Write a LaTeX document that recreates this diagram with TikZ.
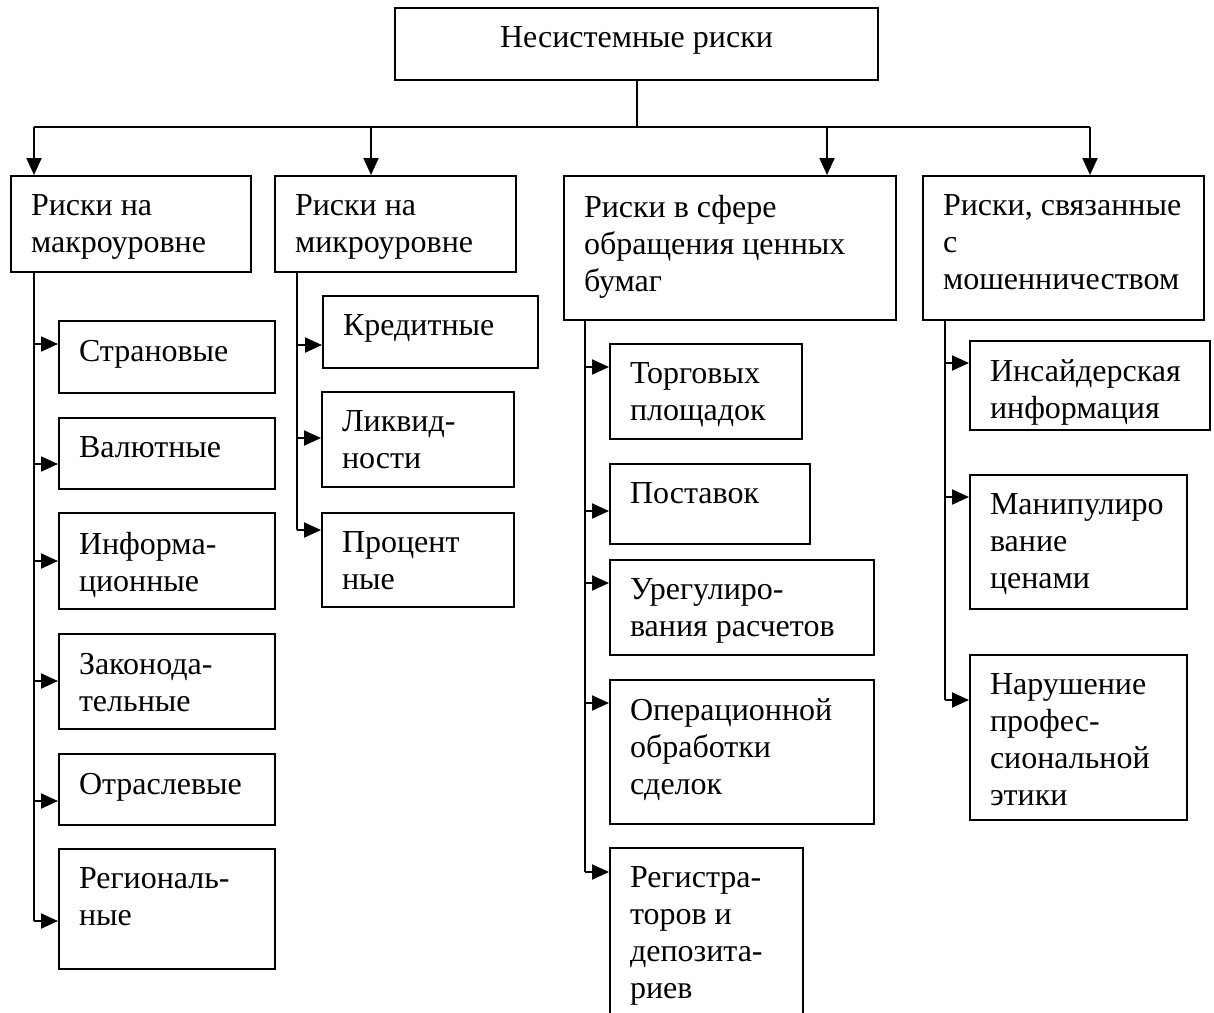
\documentclass[tikz,border=0pt]{standalone}
\usepackage{fontspec}
\setmainfont{Liberation Serif}
\usetikzlibrary{arrows.meta,calc}

\newcommand{\boxtxt}[3]{\parbox[c][\dimexpr#2pt-38pt\relax][t]{\dimexpr#1pt-40pt\relax}{\raggedright#3}}

\tikzset{
	box/.style={draw,line width=2pt,anchor=north west,inner xsep=20pt,inner ysep=19pt},
	line/.style={line width=2pt},
	arr/.style={line width=2pt,-{Triangle[length=17pt,width=15pt]}}
}

\begin{document}
\begin{tikzpicture}[x=1pt,y=-1pt,font=\fontsize{32}{37}\selectfont]
			\useasboundingbox (0,0) rectangle (1214,1012);
			% top
			\node[box] (top) at (394,7) {\parbox[c][34pt][t]{443pt}{\centering Несистемные риски}};
			% first level
			\node[box] (b1) at (10,175) {\boxtxt{240}{96}{\mbox{Риски на}\\макроуровне}};
			\node[box] (b2) at (274,175) {\boxtxt{241}{96}{\mbox{Риски на}\\микроуровне}};
			\node[box] (b3) at (563,175) {\boxtxt{332}{144}{\mbox{Риски в сфере}\\\mbox{обращения ценных}\\бумаг}};
			\node[box] (b4) at (922,175) {\boxtxt{281}{144}{\mbox{Риски, связанные}\\с\\мошенничеством}};
			% macro
			\node[box] (s1) at (58,320) {\boxtxt{216}{72}{Страновые}};
			\node[box] (s2) at (58,417) {\boxtxt{216}{71}{Валютные}};
			\node[box] (s3) at (58,512) {\boxtxt{216}{96}{Информа-\\ционные}};
			\node[box] (s4) at (58,633) {\boxtxt{216}{95}{Законода-\\тельные}};
			\node[box] (s5) at (58,753) {\boxtxt{216}{71}{Отраслевые}};
			\node[box] (s6) at (58,848) {\boxtxt{216}{120}{Региональ-\\ные}};
			% micro
			\node[box] (m1) at (322,295) {\boxtxt{215}{72}{Кредитные}};
			\node[box] (m2) at (321,391) {\boxtxt{192}{95}{Ликвид-\\ности}};
			\node[box] (m3) at (321,512) {\boxtxt{192}{94}{Процент\\ные}};
			% securities
			\node[box] (c1) at (609,343) {\boxtxt{192}{95}{Торговых\\площадок}};
			\node[box] (c2) at (609,463) {\boxtxt{200}{80}{Поставок}};
			\node[box] (c3) at (609,559) {\boxtxt{264}{95}{Урегулиро-\\\mbox{вания расчетов}}};
			\node[box] (c4) at (609,679) {\boxtxt{264}{144}{Операционной\\обработки\\сделок}};
			\node[box] (c5) at (609,847) {\boxtxt{193}{184}{Регистра-\\\mbox{торов и}\\депозита-\\риев}};
			% fraud
			\node[box] (f1) at (969,340) {\boxtxt{240}{89}{Инсайдерская\\информация}};
			\node[box] (f2) at (969,474) {\boxtxt{217}{134}{Манипулиро\\вание\\ценами}};
			\node[box] (f3) at (969,654) {\boxtxt{217}{165}{Нарушение\\профес-\\сиональной\\этики}};
			% bus and trunks
			\coordinate (a1) at (34,127);
			\coordinate (a2) at (371,127);
			\coordinate (a3) at (827,127);
			\coordinate (a4) at (1090,127);
			\coordinate (t1) at (34,0);
			\coordinate (t2) at (297,0);
			\coordinate (t3) at (585,0);
			\coordinate (t4) at (945,0);
			\coordinate (s1in) at ($(s1.north west)+(0,24)$);
			\coordinate (s2in) at ($(s2.north west)+(0,47)$);
			\coordinate (s3in) at ($(s3.north west)+(0,49)$);
			\coordinate (s4in) at ($(s4.north west)+(0,48)$);
			\coordinate (s5in) at ($(s5.north west)+(0,48)$);
			\coordinate (s6in) at ($(s6.north west)+(0,73)$);
			\coordinate (m1in) at ($(m1.north west)+(0,50)$);
			\coordinate (m2in) at ($(m2.north west)+(0,47)$);
			\coordinate (m3in) at ($(m3.north west)+(0,18)$);
			\coordinate (c1in) at ($(c1.north west)+(0,24)$);
			\coordinate (c2in) at ($(c2.north west)+(0,48)$);
			\coordinate (c3in) at ($(c3.north west)+(0,24)$);
			\coordinate (c4in) at ($(c4.north west)+(0,24)$);
			\coordinate (c5in) at ($(c5.north west)+(0,25)$);
			\coordinate (f1in) at ($(f1.north west)+(0,23)$);
			\coordinate (f2in) at ($(f2.north west)+(0,23)$);
			\coordinate (f3in) at ($(f3.north west)+(0,46)$);
			\draw[line] (top.south) -- (top.south |- a1);
			\draw[line] (a1) -- (a4);
			\draw[arr] (a1) -- (a1 |- b1.north);
			\draw[arr] (a2) -- (a2 |- b2.north);
			\draw[arr] (a3) -- (a3 |- b3.north);
			\draw[arr] (a4) -- (a4 |- b4.north);
			\draw[line] (b1.south -| t1) -- (s6in -| t1);
			\draw[line] (b2.south -| t2) -- (m3in -| t2);
			\draw[line] (b3.south -| t3) -- (c5in -| t3);
			\draw[line] (b4.south -| t4) -- (f3in -| t4);
			\draw[arr] (s1in -| t1) -- (s1in);
			\draw[arr] (s2in -| t1) -- (s2in);
			\draw[arr] (s3in -| t1) -- (s3in);
			\draw[arr] (s4in -| t1) -- (s4in);
			\draw[arr] (s5in -| t1) -- (s5in);
			\draw[arr] (s6in -| t1) -- (s6in);
			\draw[arr] (m1in -| t2) -- (m1in);
			\draw[arr] (m2in -| t2) -- (m2in);
			\draw[arr] (m3in -| t2) -- (m3in);
			\draw[arr] (c1in -| t3) -- (c1in);
			\draw[arr] (c2in -| t3) -- (c2in);
			\draw[arr] (c3in -| t3) -- (c3in);
			\draw[arr] (c4in -| t3) -- (c4in);
			\draw[arr] (c5in -| t3) -- (c5in);
			\draw[arr] (f1in -| t4) -- (f1in);
			\draw[arr] (f2in -| t4) -- (f2in);
			\draw[arr] (f3in -| t4) -- (f3in);
		\end{tikzpicture}
\end{document}
